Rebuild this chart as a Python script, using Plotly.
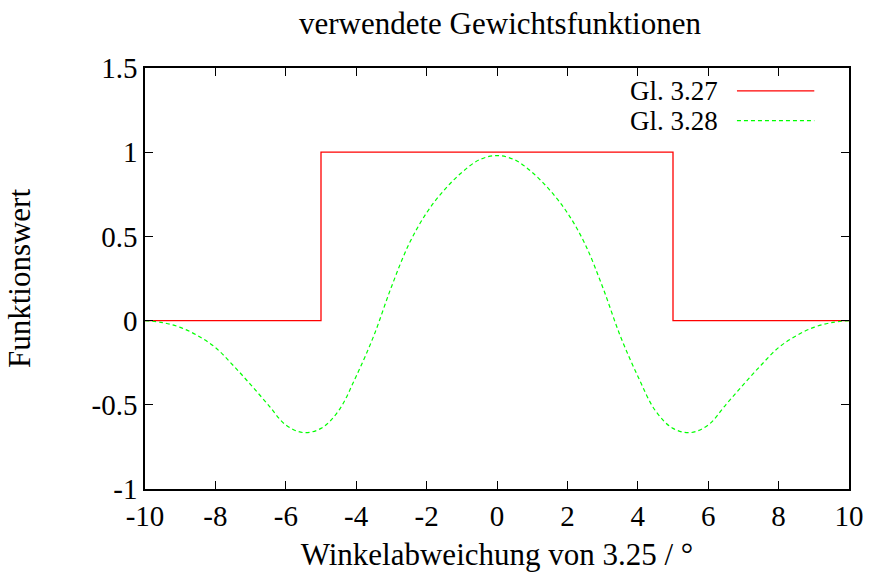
import plotly.graph_objects as go

# Gl. 3.27: rectangular window (corner points)
rect_x = [-10, -5, -5, 5, 5, 10]
rect_y = [0, 0, 1, 1, 0, 0]

# Gl. 3.28: smooth weighting function, sampled every 0.5
smooth_x = [-10, -9.5, -9, -8.5, -8, -7.5, -7, -6.5, -6, -5.5, -5, -4.5, -4, -3.5, -3, -2.5, -2, -1.5, -1, -0.5,
            0, 0.5, 1, 1.5, 2, 2.5, 3, 3.5, 4, 4.5, 5, 5.5, 6, 6.5, 7, 7.5, 8, 8.5, 9, 9.5, 10]
smooth_y = [0, -0.012, -0.04, -0.09, -0.16, -0.265, -0.38, -0.5, -0.62, -0.665, -0.64, -0.535, -0.33, -0.09, 0.2,
            0.455, 0.64, 0.775, 0.88, 0.955,
            0.98, 0.955, 0.88, 0.775, 0.64, 0.455, 0.2, -0.09, -0.33, -0.535, -0.64, -0.665, -0.62, -0.5, -0.38,
            -0.265, -0.16, -0.09, -0.04, -0.012, 0]

series_names = ["Gl. 3.27", "Gl. 3.28"]
x_ticks = [-10, -8, -6, -4, -2, 0, 2, 4, 6, 8, 10]
x_tick_text = ["-10", "-8", "-6", "-4", "-2", "0", "2", "4", "6", "8", "10"]
y_ticks = [-1, -0.5, 0, 0.5, 1, 1.5]
y_tick_text = ["-1", "-0.5", "0", "0.5", "1", "1.5"]

FONT = "Liberation Serif"
FS_TICK = 29
FS_TITLE = 31
FS_LEGEND = 27
W, H = 876, 578
L, R, T, B = 145, 21, 68, 86

fig = go.Figure()
fig.add_trace(go.Scatter(x=rect_x, y=rect_y, mode="lines", name=series_names[0],
                         line=dict(color="#ff0000", width=1.3)))
fig.add_trace(go.Scatter(x=smooth_x, y=smooth_y, mode="lines", name=series_names[1],
                         line=dict(color="#00ff00", width=1.2, dash="4px,3px", shape="spline", smoothing=1.0)))

axis_common = dict(showline=True, linecolor="black", linewidth=1.5, mirror="ticks",
                   ticks="inside", ticklen=8, tickwidth=1, tickcolor="black",
                   showgrid=False, zeroline=False,
                   tickfont=dict(family=FONT, size=FS_TICK, color="black"))

fig.update_xaxes(range=[-10, 10], tickvals=x_ticks, ticktext=x_tick_text,
                 title=dict(text="Winkelabweichung von 3.25 / °",
                            font=dict(family=FONT, size=FS_TITLE, color="black"), standoff=13),
                 **axis_common)
fig.update_yaxes(range=[-1, 1.5], tickvals=y_ticks, ticktext=y_tick_text,
                 title=dict(text="Funktionswert", font=dict(family=FONT, size=FS_TITLE, color="black"),
                            standoff=52),
                 **axis_common)

# legend drawn gnuplot-style: label on the left, line sample on the right
pw, ph = W - L - R, H - T - B
def px_to_paper_x(px):
    return (px - L) / pw
def px_to_paper_y(py):
    return (H - B - py) / ph

legend_rows = [(series_names[0], 91, dict(color="#ff0000", width=1.3)),
               (series_names[1], 121, dict(color="#00ff00", width=1.2, dash="4px,3px"))]
for name, py, ln in legend_rows:
    fig.add_annotation(text=name, xref="paper", yref="paper", x=px_to_paper_x(724), y=px_to_paper_y(py),
                       xanchor="right", yanchor="middle", showarrow=False, borderpad=0,
                       font=dict(family=FONT, size=FS_LEGEND, color="black"))
    fig.add_shape(type="line", xref="paper", yref="paper",
                  x0=px_to_paper_x(742), x1=px_to_paper_x(820),
                  y0=px_to_paper_y(py), y1=px_to_paper_y(py), line=ln)

fig.update_layout(
    width=W, height=H,
    margin=dict(l=L, r=R, t=T, b=B),
    paper_bgcolor="white", plot_bgcolor="white",
    showlegend=False,
    title=dict(text="verwendete Gewichtsfunktionen", x=500 / W,
               xanchor="center", y=1 - 23 / H, yanchor="middle",
               font=dict(family=FONT, size=FS_TITLE, color="black")),
)

fig.write_html("out.html")
